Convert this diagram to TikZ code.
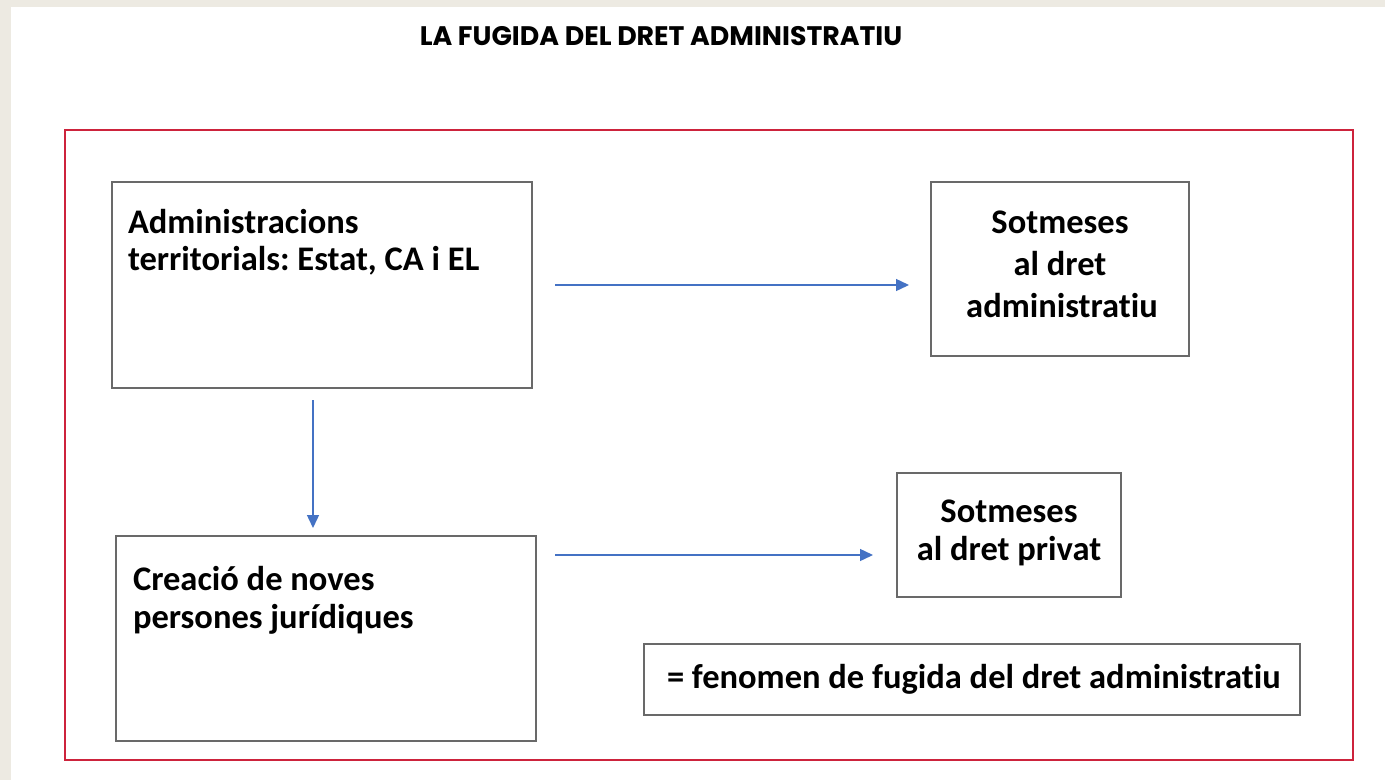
\documentclass[tikz,border=0pt]{standalone}
\usepackage{fontspec}
\setmainfont{Carlito}[Ligatures=NoCommon]
\newfontfamily\titlefont{Poppins}
\usetikzlibrary{arrows.meta}
\usetikzlibrary{calc}
\usetikzlibrary{positioning}

\definecolor{beix}{RGB}{237,234,226}
\definecolor{vermell}{RGB}{205,35,60}
\definecolor{gris}{RGB}{105,105,105}
\definecolor{blau}{RGB}{68,114,196}

% text of a box: width, height, first baseline, alignment, text
\newcommand{\caixatext}[5]{\parbox[c][#2][t]{#1}{#4\rule{0pt}{#3}#5}}

\begin{document}
\frenchspacing
\begin{tikzpicture}[x=1pt, y=-1pt,
	caixa/.style={draw=gris, line width=1.8pt, fill=white, inner sep=0pt, outer sep=0pt,
	              font=\fontsize{34.5}{37}\selectfont\bfseries},
	fletxa/.style={draw=blau, line width=1.4pt, -{Triangle[length=13pt,width=12pt]}}]
	\useasboundingbox (0,0) rectangle (1385,780);
	\fill[beix] (0,0) rectangle (1385,780);
	\fill[white] (11,7) rectangle (1385,780);

	\node[anchor=base, font=\titlefont\bfseries\fontsize{26.8}{30}\selectfont] (titol) at (661,45) {LA FUGIDA DEL DRET ADMINISTRATIU};
	\draw[vermell, line width=2.4pt] (65,130) rectangle (1353,760);

	\node[caixa] (admin) at (322,285) {\caixatext{420pt}{206pt}{51pt}{\raggedright\leftskip=16pt}{Administracions\\territorials: Estat, CA i EL}};
	\node[caixa] (sotadm) at (1060,269) {\caixatext{258pt}{174pt}{51pt}{\centering\baselineskip=42pt}{Sotmeses\hspace*{10pt}\\al dret\hspace*{22pt}\\administratiu\hspace*{-4pt}}};
	\node[caixa] (crea) at (326,638.5) {\caixatext{420pt}{205pt}{54pt}{\raggedright\leftskip=17pt\baselineskip=38pt}{Creació de noves\\persones jurídiques}};
	\node[caixa] (privat) at (1009,535) {\caixatext{224pt}{124pt}{49pt}{\centering\baselineskip=38pt}{Sotmeses\\al dret privat}};
	\node[caixa] (fenomen) at (972,679.5) {\caixatext{656pt}{71pt}{44pt}{\raggedright\leftskip=23pt}{= fenomen de fugida del dret administratiu}};

	\coordinate (c2) at ([xshift=-9pt]admin.south);
	\coordinate (c3) at ([yshift=-19pt]crea.north east);
	\draw[fletxa, shorten <=23pt, shorten >=22pt] (admin.east) -- (admin.east -| sotadm.west);
	\draw[fletxa, shorten <=12pt, shorten >=8pt] (c2) -- (c2 |- crea.north);
	\draw[fletxa, shorten <=19pt, shorten >=24pt] (c3) -- (c3 -| privat.west);
\end{tikzpicture}
\end{document}
